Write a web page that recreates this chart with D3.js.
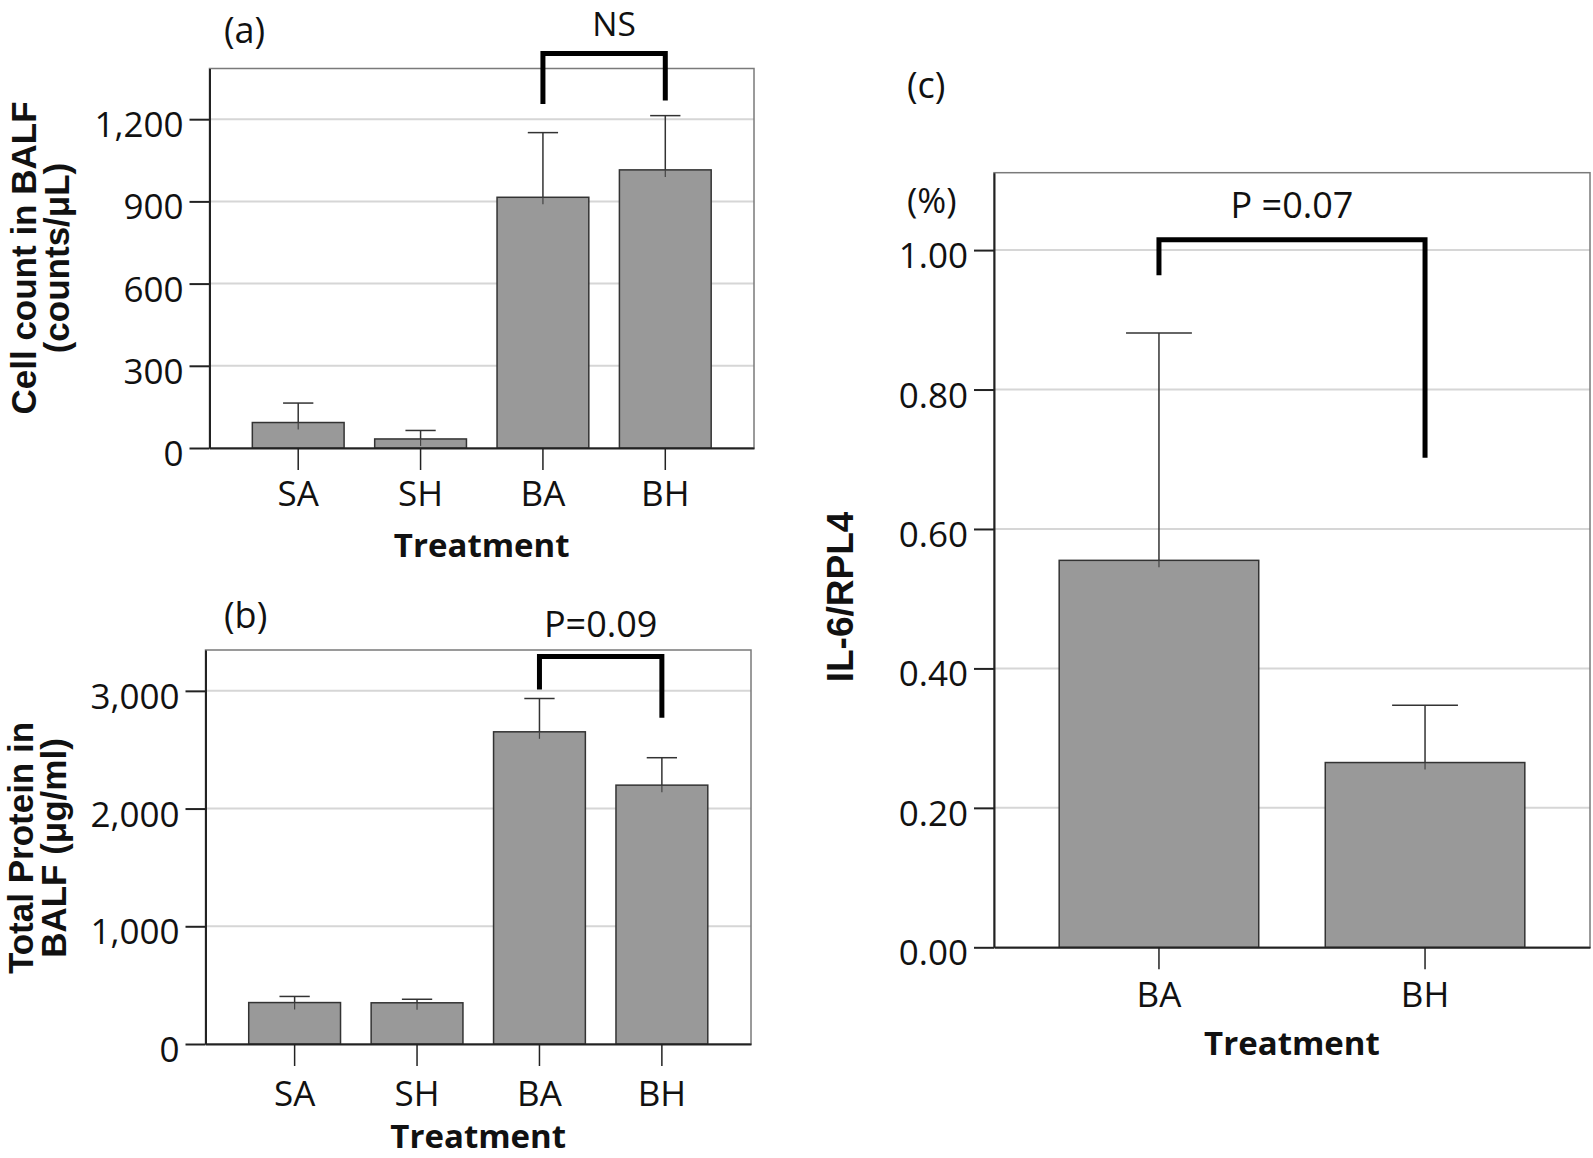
<!DOCTYPE html>
<html><head><meta charset="utf-8">
<script src="https://cdn.jsdelivr.net/npm/d3@7"></script>
<style>body{margin:0;background:#fff} svg{display:block}</style>
</head><body>
<svg id="chart" width="1593" height="1158"></svg>
<script>
// ---- data ----
const groupsAB = ["SA", "SH", "BA", "BH"];
const cellCount = [93, 33, 915, 1015];
const cellCountErr = [71, 31, 236, 198];
const protein = [352, 350, 2652, 2199];
const proteinErr = [52, 30, 283, 233];
const groupsC = ["BA", "BH"];
const il6 = [0.555, 0.265];
const il6Err = [0.326, 0.082];
const ticksA = [0, 300, 600, 900, 1200];
const ticksB = [0, 1000, 2000, 3000];
const ticksC = [0, 0.2, 0.4, 0.6, 0.8, 1.0];
const bracketA = {from: "BA", to: "BH", top: 1440, leftEnd: 1255, rightEnd: 1268, label: "NS"};
const bracketB = {from: "BA", to: "BH", top: 3291, leftEnd: 3011, rightEnd: 2771, label: "P=0.09"};
const bracketC = {from: "BA", to: "BH", top: 1.015, leftEnd: 0.964, rightEnd: 0.702, label: "P =0.07"};

const svg = d3.select("#chart");
const REG = "'Open Sans', 'Noto Sans', sans-serif";
const BOLD = "'Liberation Sans', Arial, sans-serif";

function panel(cfg) {
  const g = svg.append("g");
  const x = d3.scaleBand().domain(cfg.cats).range([cfg.left, cfg.right])
    .paddingInner(0.25).paddingOuter(cfg.po);
  const y = d3.scaleLinear().domain([0, cfg.ymax]).range([cfg.bottom, cfg.top]);
  const rows = cfg.cats.map((c, i) => ({c, v: cfg.vals[i], e: cfg.errs[i]}));

  // gridlines
  g.selectAll(".grid").data(cfg.ticks.filter(t => t > 0)).join("line")
    .attr("x1", cfg.left).attr("x2", cfg.right)
    .attr("y1", d => y(d)).attr("y2", d => y(d))
    .attr("stroke", "#d6d6d6").attr("stroke-width", 2);
  // frame
  g.append("rect").attr("x", cfg.left).attr("y", cfg.top)
    .attr("width", cfg.right - cfg.left).attr("height", cfg.bottom - cfg.top)
    .attr("fill", "none").attr("stroke", "#7a7a7a").attr("stroke-width", 1.5);

  const cap = x.bandwidth() * 0.165;
  // error bars
  const eb = g.selectAll(".eb").data(rows).join("g");
  eb.append("line")
    .attr("x1", d => x(d.c) + x.bandwidth() / 2).attr("x2", d => x(d.c) + x.bandwidth() / 2)
    .attr("y1", d => y(d.v + d.e)).attr("y2", d => y(d.v) + 7)
    .attr("stroke", "#333").attr("stroke-width", 1.5);
  eb.append("line")
    .attr("x1", d => x(d.c) + x.bandwidth() / 2 - cap).attr("x2", d => x(d.c) + x.bandwidth() / 2 + cap)
    .attr("y1", d => y(d.v + d.e)).attr("y2", d => y(d.v + d.e))
    .attr("stroke", "#333").attr("stroke-width", 1.5);
  // bars
  g.selectAll(".bar").data(rows).join("rect")
    .attr("x", d => x(d.c)).attr("width", x.bandwidth())
    .attr("y", d => y(d.v)).attr("height", d => y(0) - y(d.v))
    .attr("fill", "#999999").attr("stroke", "#333").attr("stroke-width", 1.5);
  // small stub of error line over bar top
  g.selectAll(".stub").data(rows).join("line")
    .attr("x1", d => x(d.c) + x.bandwidth() / 2).attr("x2", d => x(d.c) + x.bandwidth() / 2)
    .attr("y1", d => y(d.v)).attr("y2", d => y(d.v) + 7)
    .attr("stroke", "#444").attr("stroke-width", 1.2);

  // y axis
  const ya = g.append("g").attr("transform", `translate(${cfg.left},0)`)
    .call(d3.axisLeft(y).tickValues(cfg.ticks).tickFormat(cfg.fmt).tickSize(20).tickSizeOuter(0).tickPadding(6));
  ya.select(".domain").attr("stroke", "#222").attr("stroke-width", 2);
  ya.selectAll(".tick line").attr("stroke", "#222").attr("stroke-width", 2);
  ya.selectAll(".tick text").attr("font-family", REG).attr("font-size", 35)
    .attr("fill", "#111").attr("dy", "0.5em");

  // x axis
  const xa = g.append("g").attr("transform", `translate(0,${cfg.bottom})`)
    .call(d3.axisBottom(x).tickSize(22).tickSizeOuter(0).tickPadding(cfg.xpad));
  xa.select(".domain").attr("stroke", "#222").attr("stroke-width", 2);
  xa.selectAll(".tick line").attr("stroke", "#222").attr("stroke-width", 1.5);
  xa.selectAll(".tick text").attr("font-family", REG).attr("font-size", 35).attr("fill", "#111");

  // x title
  g.append("text").attr("x", (cfg.left + cfg.right) / 2).attr("y", cfg.xTitleY)
    .attr("text-anchor", "middle").attr("font-family", REG).attr("font-weight", 700)
    .attr("font-size", 33).attr("fill", "#111").text("Treatment");

  // y title
  const cy = cfg.yTitleCenter;
  cfg.yTitle.forEach((t, i) => {
    g.append("text").attr("transform", `translate(${cfg.yTitleX[i]},${cy}) rotate(-90)`)
      .attr("text-anchor", "middle").attr("font-family", BOLD).attr("font-weight", 700)
      .attr("font-size", cfg.yTitleSize).attr("fill", "#111").text(t);
  });

  // panel letter
  g.append("text").attr("x", cfg.letterX).attr("y", cfg.letterY)
    .attr("font-family", REG).attr("font-size", 36).attr("fill", "#111").text(cfg.letter);

  // significance bracket
  const b = cfg.bracket;
  const xl = x(b.from) + x.bandwidth() / 2, xr = x(b.to) + x.bandwidth() / 2;
  g.append("path")
    .attr("d", `M${xl},${y(b.leftEnd)}V${y(b.top)}H${xr}V${y(b.rightEnd)}`)
    .attr("fill", "none").attr("stroke", "#000").attr("stroke-width", 5);
  g.append("text").attr("x", (xl + xr) / 2 + cfg.labelDx).attr("y", cfg.labelY)
    .attr("text-anchor", "middle").attr("font-family", REG).attr("font-size", cfg.labelSize)
    .attr("fill", "#111").text(b.label);
  return {g, x, y};
}

panel({cats: groupsAB, vals: cellCount, errs: cellCountErr, ticks: ticksA,
  fmt: d3.format(",d"), left: 209.5, right: 754, top: 68.5, bottom: 448, ymax: 1385, po: 0.35,
  xpad: 11, xTitleY: 557, yTitle: ["Cell count in BALF", "(counts/\u03bcL)"], yTitleX: [36, 69],
  yTitleCenter: 258, yTitleSize: 35, letter: "(a)", letterX: 224, letterY: 43,
  bracket: bracketA, labelY: 36, labelDx: 10, labelSize: 33.5});

panel({cats: groupsAB, vals: protein, errs: proteinErr, ticks: ticksB,
  fmt: d3.format(",d"), left: 205.5, right: 751, top: 650, bottom: 1044, ymax: 3347, po: 0.353,
  xpad: 15, xTitleY: 1148, yTitle: ["Total Protein in", "BALF (\u03bcg/ml)"], yTitleX: [33, 66],
  yTitleCenter: 848, yTitleSize: 35, letter: "(b)", letterX: 224, letterY: 628,
  bracket: bracketB, labelY: 637, labelDx: 0, labelSize: 36});

panel({cats: groupsC, vals: il6, errs: il6Err, ticks: ticksC,
  fmt: d3.format(".2f"), left: 994, right: 1590, top: 172.7, bottom: 947.3, ymax: 1.111, po: 0.245,
  xpad: 13, xTitleY: 1055, yTitle: ["IL-6/RPL4"], yTitleX: [853],
  yTitleCenter: 597, yTitleSize: 37, letter: "(c)", letterX: 907, letterY: 98,
  bracket: bracketC, labelY: 218, labelDx: 0, labelSize: 36});

svg.append("text").attr("x", 907).attr("y", 213).attr("font-family", REG)
  .attr("font-size", 35).attr("fill", "#111").text("(%)");
</script>
</body></html>
